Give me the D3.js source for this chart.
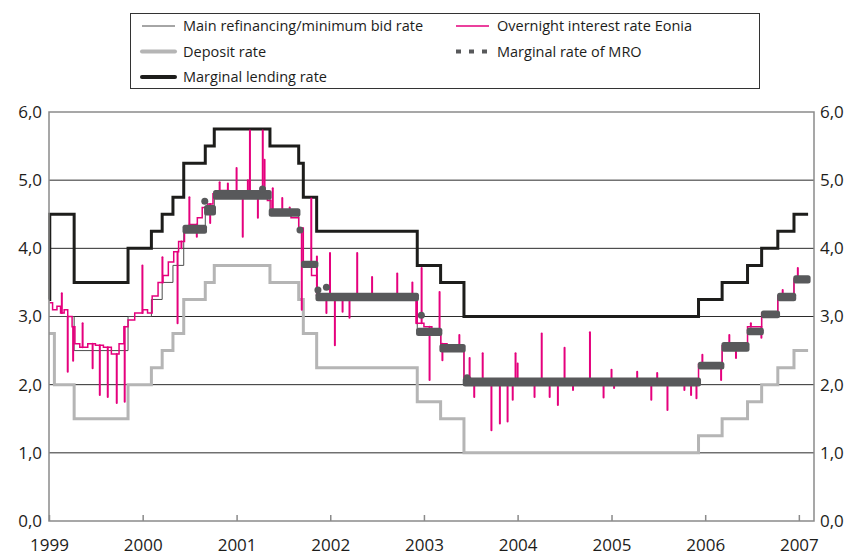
<!DOCTYPE html>
<html>
<head>
<meta charset="utf-8">
<script src="https://cdn.jsdelivr.net/npm/d3@7"></script>
<style>
  body { margin: 0; background: #fff; }
  svg { display: block; font-family: "Open Sans", sans-serif; }
</style>
</head>
<body>
<div id="target"></div>
<script>
// rate changes: [date from which it applies, rate]
const mroRate = [
  ["1999-01-01", 3.00], ["1999-04-09", 2.50], ["1999-11-05", 3.00], ["2000-02-04", 3.25],
  ["2000-03-17", 3.50], ["2000-04-28", 3.75], ["2000-06-09", 4.25], ["2000-09-01", 4.50],
  ["2000-10-06", 4.75], ["2001-05-11", 4.50], ["2001-08-31", 4.25], ["2001-09-18", 3.75],
  ["2001-11-09", 3.25], ["2002-12-06", 2.75], ["2003-03-07", 2.50], ["2003-06-06", 2.00],
  ["2005-12-06", 2.25], ["2006-03-08", 2.50], ["2006-06-15", 2.75], ["2006-08-09", 3.00],
  ["2006-10-11", 3.25], ["2006-12-13", 3.50], ["2007-02-06", 3.50]
]

const depositRate = [
  ["1999-01-01", 2.75], ["1999-01-22", 2.00], ["1999-04-09", 1.50], ["1999-11-05", 2.00],
  ["2000-02-04", 2.25], ["2000-03-17", 2.50], ["2000-04-28", 2.75], ["2000-06-09", 3.25],
  ["2000-09-01", 3.50], ["2000-10-06", 3.75], ["2001-05-11", 3.50], ["2001-08-31", 3.25],
  ["2001-09-18", 2.75], ["2001-11-09", 2.25], ["2002-12-06", 1.75], ["2003-03-07", 1.50],
  ["2003-06-06", 1.00], ["2005-12-06", 1.25], ["2006-03-08", 1.50], ["2006-06-15", 1.75],
  ["2006-08-09", 2.00], ["2006-10-11", 2.25], ["2006-12-13", 2.50], ["2007-02-06", 2.50]
]

const lendingRate = [
  ["1999-01-01", 3.25], ["1999-01-04", 4.50], ["1999-04-09", 3.50], ["1999-11-05", 4.00],
  ["2000-02-04", 4.25], ["2000-03-17", 4.50], ["2000-04-28", 4.75], ["2000-06-09", 5.25],
  ["2000-09-01", 5.50], ["2000-10-06", 5.75], ["2001-05-11", 5.50], ["2001-08-31", 5.25],
  ["2001-09-18", 4.75], ["2001-11-09", 4.25], ["2002-12-06", 3.75], ["2003-03-07", 3.50],
  ["2003-06-06", 3.00], ["2005-12-06", 3.25], ["2006-03-08", 3.50], ["2006-06-15", 3.75],
  ["2006-08-09", 4.00], ["2006-10-11", 4.25], ["2006-12-13", 4.50], ["2007-02-06", 4.50]
]

// marginal rate of MRO: [from, to, low, high]
const marginalRate = [
  ["1999-01-04", "1999-04-06", 3.00, 3.00], ["1999-04-14", "1999-11-02", 2.50, 2.50],
  ["1999-11-10", "2000-02-01", 3.00, 3.00], ["2000-02-09", "2000-03-14", 3.25, 3.25],
  ["2000-03-22", "2000-04-25", 3.50, 3.50], ["2000-05-03", "2000-06-06", 3.75, 3.75],
  ["2000-06-14", "2000-08-29", 4.25, 4.31], ["2000-09-06", "2000-10-03", 4.52, 4.60],
  ["2000-10-11", "2001-05-08", 4.75, 4.82], ["2001-05-16", "2001-08-28", 4.50, 4.55],
  ["2001-09-19", "2001-11-06", 3.75, 3.78], ["2001-11-14", "2002-12-03", 3.26, 3.31],
  ["2002-12-11", "2003-03-04", 2.75, 2.80], ["2003-03-12", "2003-06-03", 2.51, 2.56],
  ["2003-06-11", "2005-12-06", 2.01, 2.07], ["2005-12-13", "2006-03-07", 2.26, 2.30],
  ["2006-03-15", "2006-06-13", 2.52, 2.59], ["2006-06-21", "2006-08-08", 2.76, 2.80],
  ["2006-08-16", "2006-10-10", 3.01, 3.05], ["2006-10-18", "2006-12-12", 3.26, 3.31],
  ["2006-12-20", "2007-02-06", 3.52, 3.57]
]
const marginalDots = [
  ["2000-08-30", 4.69], ["2001-04-12", 4.87], ["2001-09-05", 4.27], ["2001-11-14", 3.39],
  ["2001-12-17", 3.43], ["2002-12-22", 3.02], ["2003-06-18", 2.10]
]

// Eonia: underlying level and single-day spikes
const eoniaBase = [
  ["1999-01-04", 3.20], ["1999-01-15", 3.10], ["1999-02-01", 3.15], ["1999-02-15", 3.05],
  ["1999-03-01", 3.10], ["1999-03-15", 3.00], ["1999-04-01", 2.85], ["1999-04-12", 2.60],
  ["1999-05-01", 2.55], ["1999-06-01", 2.60], ["1999-07-01", 2.58], ["1999-08-01", 2.55],
  ["1999-09-01", 2.45], ["1999-10-01", 2.60], ["1999-10-20", 2.85], ["1999-11-05", 2.95],
  ["1999-12-01", 3.05], ["2000-01-01", 3.10], ["2000-01-20", 3.05], ["2000-02-07", 3.30],
  ["2000-03-01", 3.50], ["2000-03-20", 3.60], ["2000-04-10", 3.80], ["2000-05-01", 3.95],
  ["2000-05-20", 4.10], ["2000-06-12", 4.30], ["2000-07-01", 4.35], ["2000-08-01", 4.45],
  ["2000-08-20", 4.60], ["2000-09-10", 4.65], ["2000-10-01", 4.80], ["2000-11-01", 4.85],
  ["2000-12-01", 4.80], ["2001-02-01", 4.78], ["2001-03-01", 4.82], ["2001-05-01", 4.70],
  ["2001-05-15", 4.55], ["2001-06-01", 4.50], ["2001-08-01", 4.45], ["2001-08-31", 4.30],
  ["2001-09-18", 3.80], ["2001-10-20", 3.60], ["2001-11-10", 3.30], ["2002-06-01", 3.33],
  ["2002-12-06", 2.90], ["2003-01-01", 2.85], ["2003-02-01", 2.80], ["2003-03-08", 2.60],
  ["2003-04-01", 2.55], ["2003-05-01", 2.52], ["2003-06-06", 2.10], ["2003-07-01", 2.08],
  ["2004-01-01", 2.05], ["2005-12-06", 2.30], ["2006-03-08", 2.57], ["2006-06-15", 2.85],
  ["2006-08-09", 3.05], ["2006-10-11", 3.30], ["2006-12-13", 3.55], ["2007-02-06", 3.55]
]
const eoniaSpikes = [
  ["1999-02-20", 3.34], ["1999-03-15", 2.19], ["1999-04-05", 2.35], ["1999-05-12", 2.90],
  ["1999-06-20", 2.24], ["1999-07-18", 1.85], ["1999-08-18", 1.82], ["1999-09-22", 1.73],
  ["1999-10-23", 1.75], ["1999-12-31", 3.75], ["2000-03-18", 3.87], ["2000-05-16", 2.90],
  ["2000-05-31", 4.00], ["2000-07-01", 4.75], ["2000-07-30", 4.17], ["2000-09-20", 4.37],
  ["2000-10-27", 4.97], ["2000-11-28", 4.95], ["2001-01-01", 5.18], ["2001-01-25", 4.17],
  ["2001-02-14", 5.00], ["2001-02-22", 5.73], ["2001-03-25", 4.45], ["2001-04-13", 5.73],
  ["2001-04-20", 5.30], ["2001-05-22", 4.88], ["2001-06-28", 4.74], ["2001-07-27", 4.60],
  ["2001-09-12", 3.10], ["2001-10-19", 4.73], ["2001-11-10", 3.88], ["2001-12-17", 3.05],
  ["2001-12-31", 3.93], ["2002-01-19", 2.58], ["2002-02-18", 3.07], ["2002-03-17", 2.98],
  ["2002-04-16", 3.93], ["2002-06-13", 3.58], ["2002-09-19", 3.63], ["2002-11-17", 3.50],
  ["2002-12-02", 2.90], ["2002-12-23", 3.71], ["2003-01-23", 2.07], ["2003-03-03", 3.36],
  ["2003-03-14", 2.36], ["2003-05-19", 2.73], ["2003-06-28", 2.39], ["2003-07-16", 1.82],
  ["2003-08-18", 2.46], ["2003-09-21", 1.33], ["2003-10-24", 1.43], ["2003-11-23", 1.46],
  ["2003-12-13", 1.78], ["2003-12-24", 2.46], ["2004-01-01", 2.31], ["2004-03-07", 1.82],
  ["2004-04-04", 2.75], ["2004-05-05", 1.82], ["2004-06-06", 1.70], ["2004-07-02", 2.54],
  ["2004-08-04", 1.92], ["2004-10-09", 2.77], ["2004-12-01", 1.81], ["2005-01-01", 2.22],
  ["2005-01-11", 1.95], ["2005-04-11", 2.19], ["2005-06-05", 1.78], ["2005-06-28", 2.17],
  ["2005-08-07", 1.63], ["2005-10-12", 1.92], ["2005-11-07", 1.85], ["2005-11-28", 1.80],
  ["2005-12-21", 2.44], ["2006-03-04", 2.07], ["2006-04-05", 2.73], ["2006-05-01", 2.39],
  ["2006-06-28", 2.90], ["2006-08-08", 2.69], ["2006-10-30", 3.39], ["2006-12-28", 3.71]
]

const years = [1999, 2000, 2001, 2002, 2003, 2004, 2005, 2006, 2007]
const yTicks = [0, 1, 2, 3, 4, 5, 6]

const legendItems = [
  { label: "Main refinancing/minimum bid rate", key: "mro" },
  { label: "Overnight interest rate Eonia", key: "eonia" },
  { label: "Deposit rate", key: "deposit" },
  { label: "Marginal rate of MRO", key: "marginal" },
  { label: "Marginal lending rate", key: "lending" }
]

const colors = {
  mro: '#4d4d4d',
  eonia: '#e5007d',
  deposit: '#b5b5b5',
  lending: '#1d1d1b',
  marginal: '#58595b',
  frame: '#8a8a8a',
  grid: '#2b2b2b',
  text: '#1d1d1b'
}

const parse = d3.timeParse("%Y-%m-%d")
const width = 856
const height = 557
const margin = { left: 49, right: 42, top: 112, bottom: 36 }

const svg = d3.select("#target").append("svg")
  .attr("width", width)
  .attr("height", height)

const x = d3.scaleTime()
  .domain([parse("1999-01-01"), parse("2007-03-01")])
  .range([margin.left, width - margin.right])

const y = d3.scaleLinear()
  .domain([0, 6])
  .range([height - margin.bottom, margin.top])

//Grid
svg.append("g")
  .selectAll("line")
  .data(yTicks.filter(d => d > 0 && d < 6))
  .join("line")
  .attr("x1", x.range()[0])
  .attr("x2", x.range()[1])
  .attr("y1", d => y(d))
  .attr("y2", d => y(d))
  .attr("stroke", colors.grid)
  .attr("stroke-width", 1)

const toPoints = arr => arr.map(([d, v]) => [x(parse(d)), y(v)])
const stepLine = d3.line().curve(d3.curveStepAfter)

//Deposit
svg.append("path")
  .attr("d", stepLine(toPoints(depositRate)))
  .attr("fill", "none")
  .attr("stroke", colors.deposit)
  .attr("stroke-width", 3)

//Marginal lending
svg.append("path")
  .attr("d", stepLine(toPoints(lendingRate)))
  .attr("fill", "none")
  .attr("stroke", colors.lending)
  .attr("stroke-width", 3)

//MRO
svg.append("path")
  .attr("d", stepLine(toPoints(mroRate)))
  .attr("fill", "none")
  .attr("stroke", colors.mro)
  .attr("stroke-width", 1)

//Eonia: level line plus spikes from level
const baseDates = eoniaBase.map(d => parse(d[0]))
const levelAt = date => eoniaBase[Math.max(0, d3.bisectRight(baseDates, date) - 1)][1]

svg.append("path")
  .attr("d", stepLine(toPoints(eoniaBase)))
  .attr("fill", "none")
  .attr("stroke", colors.eonia)
  .attr("stroke-width", 1.5)

svg.append("g")
  .selectAll("line")
  .data(eoniaSpikes)
  .join("line")
  .attr("x1", d => x(parse(d[0])))
  .attr("x2", d => x(parse(d[0])))
  .attr("y1", d => y(levelAt(parse(d[0]))))
  .attr("y2", d => y(d[1]))
  .attr("stroke", colors.eonia)
  .attr("stroke-width", 2)
  .attr("stroke-linecap", "round")

//Marginal rate of MRO
svg.append("g")
  .selectAll("rect")
  .data(marginalRate)
  .join("rect")
  .attr("x", d => x(parse(d[0])))
  .attr("width", d => x(parse(d[1])) - x(parse(d[0])))
  .attr("y", d => y(d[3]))
  .attr("height", d => y(d[2]) - y(d[3]))
  .attr("fill", colors.marginal)
  .attr("stroke", colors.marginal)
  .attr("stroke-width", 5)
  .attr("stroke-linejoin", "round")

svg.append("g")
  .selectAll("circle")
  .data(marginalDots)
  .join("circle")
  .attr("cx", d => x(parse(d[0])))
  .attr("cy", d => y(d[1]))
  .attr("r", 3.5)
  .attr("fill", colors.marginal)

//Frame
svg.append("rect")
  .attr("x", x.range()[0])
  .attr("y", y(6))
  .attr("width", x.range()[1] - x.range()[0])
  .attr("height", y(0) - y(6))
  .attr("fill", "none")
  .attr("stroke", colors.frame)
  .attr("stroke-width", 1.5)

//Axes
const fmt = d => d3.format(".1f")(d).replace(".", ",")

const styleAxis = g => {
  g.select(".domain").remove()
  g.selectAll("text")
    .attr("fill", colors.text)
    .attr("font-size", 17)
    .attr("font-family", '"Open Sans", sans-serif')
}

svg.append("g")
  .attr("transform", `translate(${x.range()[0]},0)`)
  .call(d3.axisLeft(y).tickValues(yTicks).tickFormat(fmt).tickSize(0).tickPadding(7))
  .call(styleAxis)

svg.append("g")
  .attr("transform", `translate(${x.range()[1]},0)`)
  .call(d3.axisRight(y).tickValues(yTicks).tickFormat(fmt).tickSize(0).tickPadding(6))
  .call(styleAxis)

svg.append("g")
  .attr("transform", `translate(0,${y(0)})`)
  .call(d3.axisBottom(x)
    .tickValues(years.map(yr => new Date(yr, 0, 1)))
    .tickFormat(d3.timeFormat("%Y"))
    .tickSize(-6)
    .tickPadding(18))
  .call(styleAxis)
  .call(g => g.selectAll(".tick line").attr("stroke", colors.frame).attr("stroke-width", 1.5))

//Legend
const legend = svg.append("g")

legend.append("rect")
  .attr("x", 130.5)
  .attr("y", 13.5)
  .attr("width", 629)
  .attr("height", 75)
  .attr("fill", "#fff")
  .attr("stroke", "#333")
  .attr("stroke-width", 1)

const legendSwatch = {
  mro: { width: 1, color: colors.mro },
  eonia: { width: 1.5, color: colors.eonia },
  deposit: { width: 4, color: colors.deposit, cap: "round" },
  marginal: { width: 4, color: colors.marginal, dash: "5,8" },
  lending: { width: 4, color: colors.lending, cap: "round" }
}

const legendRow = legend.selectAll("g")
  .data(legendItems)
  .join("g")
  .attr("transform", (d, i) => `translate(${i % 2 ? 456 : 142},${26 + Math.floor(i / 2) * 25.5})`)

legendRow.append("line")
  .attr("x1", 0)
  .attr("x2", d => legendSwatch[d.key].dash ? 35 : 33)
  .attr("stroke", d => legendSwatch[d.key].color)
  .attr("stroke-width", d => legendSwatch[d.key].width)
  .attr("stroke-linecap", d => legendSwatch[d.key].cap || "butt")
  .attr("stroke-dasharray", d => legendSwatch[d.key].dash || null)

legendRow.append("text")
  .attr("x", 41)
  .attr("dy", "0.35em")
  .attr("font-size", 14.5)
  .attr("fill", colors.text)
  .text(d => d.label)
</script>
</body>
</html>
